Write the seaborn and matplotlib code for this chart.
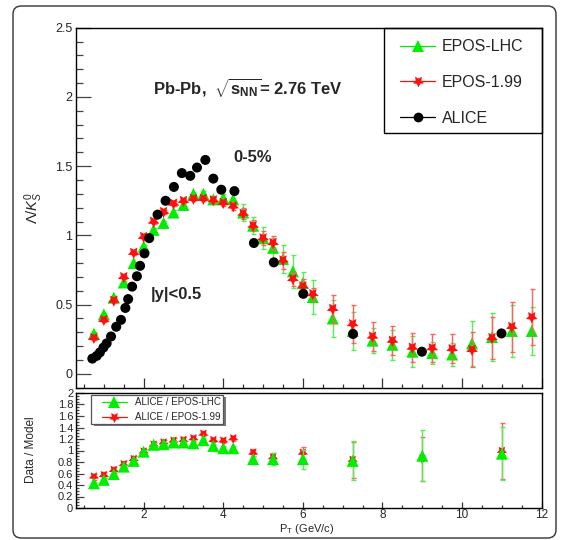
import numpy as np
import pandas as pd
import matplotlib
matplotlib.use("Agg")
import matplotlib.pyplot as plt
import seaborn as sns
from matplotlib.lines import Line2D
from matplotlib.patches import FancyBboxPatch, Rectangle
from matplotlib.ticker import MultipleLocator

# ---------------- data ----------------
pt_alice = [0.71, 0.82, 0.90, 0.99, 1.07, 1.18, 1.31, 1.43, 1.54, 1.61, 1.71, 1.83, 1.91,
            2.02, 2.14, 2.35, 2.55, 2.76, 2.96, 3.17, 3.34, 3.55, 3.75, 3.95, 4.28,
            4.77, 5.27, 6.01, 7.26, 8.99, 10.99]
alice = [0.11, 0.13, 0.155, 0.19, 0.22, 0.27, 0.34, 0.39, 0.476, 0.54, 0.63, 0.705, 0.78,
         0.87, 0.98, 1.15, 1.25, 1.35, 1.45, 1.43, 1.49, 1.545, 1.41, 1.33, 1.32,
         0.945, 0.805, 0.578, 0.288, 0.16, 0.292]

pt_model = [0.75, 1.0, 1.25, 1.5, 1.75, 2.0, 2.25, 2.5, 2.75, 3.0, 3.25, 3.5, 3.75, 4.0,
            4.25, 4.5, 4.75, 5.0, 5.25, 5.5, 5.75, 6.0, 6.25,
            6.75, 7.25, 7.75, 8.25, 8.75, 9.25, 9.75, 10.25, 10.75, 11.25, 11.75]
epos_lhc = [0.29, 0.43, 0.55, 0.66, 0.80, 0.92, 1.04, 1.09, 1.165, 1.22, 1.30, 1.30, 1.26, 1.27,
            1.26, 1.165, 1.07, 0.98, 0.91, 0.83, 0.74, 0.655, 0.555,
            0.40, 0.31, 0.24, 0.21, 0.16, 0.15, 0.14, 0.22, 0.266, 0.31, 0.31]
epos_lhc_err = [0.01, 0.01, 0.01, 0.01, 0.01, 0.01, 0.015, 0.015, 0.015, 0.015, 0.015, 0.02, 0.02, 0.03,
                0.04, 0.06, 0.06, 0.08, 0.07, 0.10, 0.12, 0.08, 0.125,
                0.136, 0.14, 0.09, 0.11, 0.11, 0.08, 0.08, 0.16, 0.17, 0.19, 0.175]
epos_199 = [0.26, 0.39, 0.53, 0.70, 0.875, 0.99, 1.10, 1.17, 1.23, 1.25, 1.265, 1.265, 1.255, 1.235,
            1.21, 1.157, 1.07, 0.98, 0.946, 0.82, 0.686, 0.633, 0.577,
            0.47, 0.36, 0.27, 0.24, 0.19, 0.186, 0.18, 0.174, 0.26, 0.34, 0.41]
epos_199_err = [0.015, 0.015, 0.015, 0.015, 0.015, 0.015, 0.015, 0.015, 0.015, 0.015, 0.015, 0.015, 0.02, 0.025,
                0.03, 0.04, 0.04, 0.05, 0.05, 0.06, 0.05, 0.05, 0.04,
                0.10, 0.135, 0.105, 0.105, 0.104, 0.10, 0.105, 0.128, 0.15, 0.18, 0.20]

pt_ratio = [0.75, 1.0, 1.25, 1.5, 1.75, 2.0, 2.25, 2.5, 2.75, 3.0, 3.25, 3.5, 3.75, 4.0, 4.25,
            4.75, 5.25, 6.0, 7.25, 9.0, 11.0]
ratio_lhc = [0.43, 0.49, 0.59, 0.72, 0.82, 0.98, 1.10, 1.11, 1.14, 1.14, 1.125, 1.18, 1.08, 1.04, 1.04,
             0.85, 0.85, 0.85, 0.82, 0.91, 0.945]
ratio_lhc_err = [0.03, 0.03, 0.03, 0.03, 0.03, 0.03, 0.03, 0.03, 0.03, 0.03, 0.03, 0.03, 0.03, 0.03, 0.03,
                 0.05, 0.11, 0.165, 0.34, 0.44, 0.46]
ratio_199 = [0.545, 0.57, 0.66, 0.76, 0.85, 0.98, 1.10, 1.14, 1.17, 1.18, 1.21, 1.29, 1.18, 1.17, 1.21,
             0.96, 0.88, 0.96, 0.835, 0.85, 0.99]
ratio_199_err = [0.05, 0.05, 0.05, 0.05, 0.05, 0.05, 0.05, 0.05, 0.05, 0.05, 0.05, 0.04, 0.04, 0.04, 0.04,
                 0.06, 0.08, 0.10, 0.32, 0.38, 0.49]

# ---------------- style ----------------
sns.set_style("ticks")
plt.rcParams['font.family'] = ['Liberation Sans', 'DejaVu Sans']
plt.rcParams['mathtext.fontset'] = 'custom'
plt.rcParams['mathtext.rm'] = 'Liberation Sans'
plt.rcParams['mathtext.it'] = 'Liberation Sans:italic'
plt.rcParams['mathtext.bf'] = 'Liberation Sans:bold'

GREEN = '#00ee00'
GREEN_ERR = '#55ee55'
RED = '#ff1010'
RED_ERR = '#ff6060'
STAR = (5, 1, 180)

W, H = 564, 540
fig = plt.figure(figsize=(W / 100, H / 100), dpi=100)

def fx(px):
    return px / W

def fy(py):
    return 1 - py / H

L, R = 76, 541.7
ax1 = fig.add_axes([fx(L), fy(387.7), fx(R) - fx(L), fy(27.7) - fy(387.7)])
ax2 = fig.add_axes([fx(L), fy(508), fx(R) - fx(L), fy(393) - fy(508)])

# frame around figure
frame = FancyBboxPatch((fx(13), fy(538)), fx(556) - fx(13), fy(6) - fy(538),
                       boxstyle="round,pad=0,rounding_size=0.015", transform=fig.transFigure,
                       facecolor='none', edgecolor='#333333', lw=1.0, zorder=0)
fig.patches.append(frame)

# ---------------- top panel ----------------
df_lhc = pd.DataFrame({'pt': pt_model, 'y': epos_lhc, 'e': epos_lhc_err})
df_199 = pd.DataFrame({'pt': pt_model, 'y': epos_199, 'e': epos_199_err})
df_al = pd.DataFrame({'pt': pt_alice, 'y': alice})

ax1.errorbar(df_lhc.pt, df_lhc.y, yerr=df_lhc.e, fmt='none', ecolor=GREEN_ERR, elinewidth=1.0,
             capsize=1.8, capthick=1.0, zorder=2)
sns.scatterplot(data=df_lhc, x='pt', y='y', marker='^', color=GREEN, s=75, edgecolor='none',
                linewidth=0, ax=ax1, zorder=3)
ax1.errorbar(df_199.pt, df_199.y, yerr=df_199.e, fmt='none', ecolor=RED_ERR, elinewidth=1.0,
             capsize=1.8, capthick=1.0, zorder=4)
sns.scatterplot(data=df_199, x='pt', y='y', marker=STAR, color=RED, s=80, edgecolor='none',
                linewidth=0, ax=ax1, zorder=5)
sns.scatterplot(data=df_al, x='pt', y='y', marker='o', color='black', s=52, edgecolor='none',
                linewidth=0, ax=ax1, zorder=6)

ax1.set_xlim(0.3, 12)
ax1.set_ylim(-0.1, 2.5)
ax1.set_xlabel('')
ax1.set_ylabel('')
ax1.yaxis.set_major_locator(MultipleLocator(0.5))
ax1.yaxis.set_minor_locator(MultipleLocator(0.1))
ax1.xaxis.set_major_locator(MultipleLocator(2))
ax1.xaxis.set_minor_locator(MultipleLocator(0.5))
ax1.set_yticks([0, 0.5, 1, 1.5, 2, 2.5])
ax1.set_yticklabels(['0', '0.5', '1', '1.5', '2', '2.5'])
ax1.tick_params(axis='y', which='major', direction='in', length=10.5, width=0.9, color='#444444',
                labelsize=9, pad=2.5)
ax1.tick_params(axis='y', which='minor', direction='in', length=5.3, width=0.9, color='#444444')
ax1.tick_params(axis='x', which='major', direction='in', length=7, width=0.9, color='#333333',
                labelbottom=False)
ax1.tick_params(axis='x', which='minor', direction='in', length=3, width=0.9, color='#333333')
for s in ax1.spines.values():
    s.set_linewidth(1.0)
    s.set_color('black')

handles = [Line2D([0], [0], color=GREEN, marker='^', markersize=8, lw=0.9, markeredgewidth=0),
           Line2D([0], [0], color=RED, marker=STAR, markersize=8.5, lw=0.9, markeredgewidth=0),
           Line2D([0], [0], color='black', marker='o', markersize=7, lw=0.9, markeredgewidth=0)]
leg1 = ax1.legend(handles, ['EPOS-LHC', 'EPOS-1.99', 'ALICE'],
                  loc='center left', bbox_to_anchor=(0.665, 0.848), frameon=False,
                  fontsize=11.5, handlelength=2.2, handletextpad=0.4, labelspacing=1.3)
ax1.add_patch(Rectangle((0.661, 0.7075), 0.339, 0.2925, transform=ax1.transAxes,
                        facecolor='none', edgecolor='black', lw=1.0, zorder=10, clip_on=False))

ax1.text(fx(247.5), fy(88), r'Pb-Pb,  $\sqrt{\mathbf{s}_{\mathbf{NN}}}$= 2.76 TeV',
         transform=fig.transFigure, ha='center', va='center', fontsize=12, fontweight='bold')
ax1.text(fx(253), fy(158), '0-5%', transform=fig.transFigure, ha='center', va='center',
         fontsize=12, fontweight='bold')
ax1.text(fx(176), fy(294), '|y|<0.5', transform=fig.transFigure, ha='center', va='center',
         fontsize=12, fontweight='bold')
fig.text(fx(34), fy(208), r'$\mathit{\Lambda/K^{0}_{S}}$', rotation=90, ha='center', va='center',
         fontsize=10.5)

# ---------------- bottom panel ----------------
dr_lhc = pd.DataFrame({'pt': pt_ratio, 'y': ratio_lhc, 'e': ratio_lhc_err})
dr_199 = pd.DataFrame({'pt': pt_ratio, 'y': ratio_199, 'e': ratio_199_err})

ax2.errorbar(dr_199.pt, dr_199.y, yerr=dr_199.e, fmt='none', ecolor=RED_ERR, elinewidth=1.0,
             capsize=1.8, capthick=1.0, zorder=2)
sns.scatterplot(data=dr_199, x='pt', y='y', marker=STAR, color=RED, s=60, edgecolor='none',
                linewidth=0, ax=ax2, zorder=3)
ax2.errorbar(dr_lhc.pt, dr_lhc.y, yerr=dr_lhc.e, fmt='none', ecolor=GREEN_ERR, elinewidth=1.0,
             capsize=1.8, capthick=1.0, zorder=4)
sns.scatterplot(data=dr_lhc, x='pt', y='y', marker='^', color=GREEN, s=75, edgecolor='none',
                linewidth=0, ax=ax2, zorder=5)

ax2.set_xlim(0.3, 12)
ax2.set_ylim(0, 2)
ax2.set_xlabel('')
ax2.set_ylabel('')
ax2.xaxis.set_major_locator(MultipleLocator(2))
ax2.xaxis.set_minor_locator(MultipleLocator(0.5))
ax2.yaxis.set_major_locator(MultipleLocator(0.2))
ax2.yaxis.set_minor_locator(MultipleLocator(0.05))
ax2.set_xticks([2, 4, 6, 8, 10, 12])
ax2.set_xticklabels(['2', '4', '6', '8', '10', '12'])
yt = [0, 0.2, 0.4, 0.6, 0.8, 1, 1.2, 1.4, 1.6, 1.8, 2]
ax2.set_yticks(yt)
ax2.set_yticklabels(['0', '0.2', '0.4', '0.6', '0.8', '1', '1.2', '1.4', '1.6', '1.8', '2'])
ax2.tick_params(axis='y', which='major', direction='in', length=5.5, width=0.9, color='#444444',
                labelsize=8, pad=2)
ax2.tick_params(axis='y', which='minor', direction='in', length=2.5, width=0.9, color='#444444')
ax2.tick_params(axis='x', which='major', direction='in', length=4.5, width=0.9, color='#333333',
                labelsize=8.5, pad=0.8)
ax2.tick_params(axis='x', which='minor', direction='in', length=2.2, width=0.9, color='#333333')
for s in ax2.spines.values():
    s.set_linewidth(1.0)
    s.set_color('black')

handles2 = [Line2D([0], [0], color=GREEN, marker='^', markersize=8, lw=0.9, markeredgewidth=0),
            Line2D([0], [0], color=RED, marker=STAR, markersize=8, lw=0.9, markeredgewidth=0)]
ax2.add_patch(Rectangle((0.038, 0.715), 0.284, 0.253, transform=ax2.transAxes,
                        facecolor='#777777', edgecolor='none', zorder=9, clip_on=False))
ax2.add_patch(Rectangle((0.032, 0.73), 0.284, 0.253, transform=ax2.transAxes,
                        facecolor='white', edgecolor='#555555', lw=0.9, zorder=10, clip_on=False))
leg2 = ax2.legend(handles2, ['ALICE / EPOS-LHC', 'ALICE / EPOS-1.99'],
                  loc='center left', bbox_to_anchor=(0.036, 0.855), frameon=False,
                  fontsize=7, handlelength=2.6, handletextpad=0.8, labelspacing=0.55)
leg2.set_zorder(11)

fig.text(fx(31.5), fy(450), 'Data / Model', rotation=90, ha='center', va='center', fontsize=8.5)
fig.text(fx(307), fy(529.5), r'P$_{\mathrm{T}}$ (GeV/c)', ha='center', va='center', fontsize=8)

fig.savefig('out.png', dpi=100)
